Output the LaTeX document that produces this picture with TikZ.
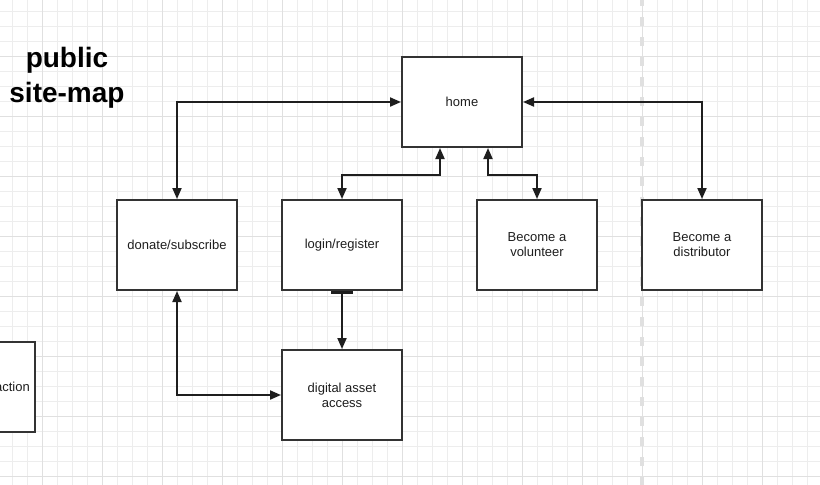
\documentclass[tikz,border=0pt]{standalone}
\usepackage{fontspec}
\setmainfont{Liberation Sans}
\usetikzlibrary{arrows.meta}

\definecolor{gridminor}{HTML}{EDEDED}
\definecolor{gridmajor}{HTML}{E0E0E0}
\definecolor{edge}{HTML}{333333}
\definecolor{wire}{HTML}{1E1E1E}

\tikzset{
    block/.style={draw=edge, line width=2pt, fill=white, minimum width=120pt, minimum height=90pt,
        inner sep=0pt, align=center, text=wire, font=\fontsize{13}{15}\selectfont},
    link/.style={draw=wire, line width=2pt, >={Triangle[length=11pt,width=9pt]}},
}

\begin{document}
\begin{tikzpicture}[x=1pt, y=-1pt]
    \useasboundingbox (0,0) rectangle (820,485);
    \clip (0,0) rectangle (820,485);
    \fill[white] (0,0) rectangle (820,485);

    \foreach \x in {12.3,27.3,...,820} \draw[gridminor, line width=1pt] (\x,0) -- (\x,485);
    \foreach \y in {11.5,26.5,...,485} \draw[gridminor, line width=1pt] (0,\y) -- (820,\y);
    \foreach \x in {42.3,102.3,...,820} \draw[gridmajor, line width=1pt] (\x,0) -- (\x,485);
    \foreach \y in {56.5,116.5,...,485} \draw[gridmajor, line width=1pt] (0,\y) -- (820,\y);

    \draw[gridmajor, line width=4pt, dash pattern=on 9pt off 11pt] (642,-3) -- (642,490);

    \node[font=\bfseries\fontsize{28}{35}\selectfont, align=center] (title) at (67,78) {public\\site-map};

    \node[block] (home) at (462,102) {home};
    \node[block] (donate) at (177,245) {donate/subscribe};
    \node[block] (login) at (342,245) {login/register};
    \node[block] (volunteer) at (537,245) {Become a\\volunteer};
    \node[block] (distributor) at (702,245) {Become a\\distributor};
    \node[block] (digital) at (342,395) {digital asset\\access};
    \node[block] (transact) at (-25,387) {};
    \node[anchor=east, text=wire, font=\fontsize{13}{15}\selectfont, inner sep=0pt] (transactlabel) at (30,387) {action};

    \draw[link, <->] (home.west) -| (donate.north);
    \draw[link, <->] ([xshift=-22pt]home.south) -- ++(0,27) -| (login.north);
    \draw[link, <->] ([xshift=26pt]home.south) -- ++(0,27) -| (volunteer.north);
    \draw[link, <->] (home.east) -| (distributor.north);
    \draw[link, {Bar[width=22pt,line width=3pt]}->] (login.south) -- (digital.north);
    \draw[link, <->] (donate.south) |- (digital.west);
\end{tikzpicture}
\end{document}
